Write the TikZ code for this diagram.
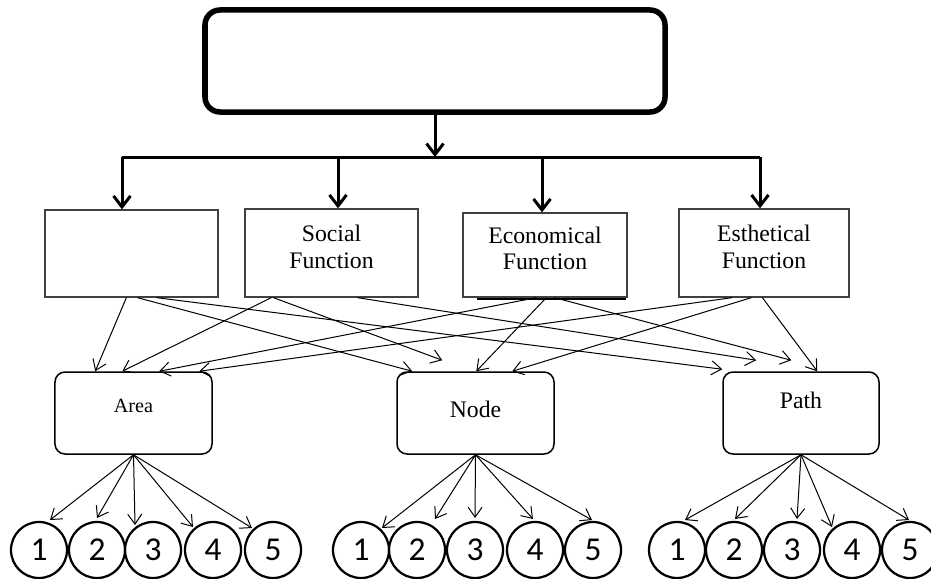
\documentclass[tikz,border=0pt]{standalone}
\usepackage{fontspec}
\setmainfont{Liberation Serif}
\newfontfamily\numfont{Carlito}
\usepackage{tikz}
\usetikzlibrary{arrows.meta}
\usetikzlibrary{calc}

\begin{document}
\begin{tikzpicture}[x=0.2mm, y=-0.2mm, >={Straight Barb[length=2mm,width=2.8mm]}]
	\tikzstyle{head}=[rectangle, rounded corners=3mm, line width=1.1mm, draw=black, minimum width=92mm, minimum height=20.4mm]
	\tikzstyle{func}=[rectangle, draw=black!75, line width=0.25mm, minimum width=34.6mm, minimum height=17.6mm]
	\tikzstyle{rbox}=[rectangle, rounded corners=2mm, draw=black, line width=0.3mm, minimum width=31.4mm, minimum height=16.4mm]
	\tikzstyle{num}=[circle, draw=black, line width=0.45mm, minimum size=11.2mm, inner sep=0pt, font=\numfont\fontsize{19}{20}\selectfont]
	\tikzstyle{connect}=[->, line width=0.2mm]
	\tikzstyle{bold}=[-{Straight Barb[length=2.2mm,width=3.4mm]}, line width=0.6mm]
	\tikzstyle{lbl}=[font=\fontsize{13.5}{15}\selectfont, align=center]
	
	\useasboundingbox (0,0) rectangle (931,578);
	
	\node[head] (top) at (435,61) {};
	
	\coordinate (bar) at (435,157);
	\coordinate (b1) at (122,157);
	\coordinate (b2) at (338,157);
	\coordinate (b3) at (542,157);
	\coordinate (b4) at (760,157);
	
	\node[func, minimum height=17.4mm] (fn1) at (131.5,253.5) {};
	\node[func, label={[lbl, yshift=1.2mm]center:Social\\Function}] (fn2) at (331.5,253) {};
	\node[func, minimum width=32.8mm, minimum height=16.8mm, label={[lbl, yshift=1.3mm]center:Economical\\Function}] (fn3) at (545,255) {};
	\node[func, minimum width=34mm, label={[lbl, yshift=1.2mm]center:Esthetical\\Function}] (fn4) at (764,253) {};
	
	\node[rbox, label={[font=\fontsize{11.5}{13}\selectfont, yshift=1.4mm]center:Area}] (area) at (133.5,413) {};
	\node[rbox, label={[lbl, yshift=0.8mm]center:Node}] (nodebox) at (475.5,413) {};
	\node[rbox, minimum width=31.2mm, label={[lbl, yshift=2.6mm]center:Path}] (pathbox) at (801,413) {};
	
	\node[num] (a1) at (39,550) {1};
	\node[num] (a2) at (97,550) {2};
	\node[num] (a3) at (153,550) {3};
	\node[num] (a4) at (213,550) {4};
	\node[num] (a5) at (273,550) {5};
	
	\node[num] (n1) at (361,550) {1};
	\node[num] (n2) at (417,550) {2};
	\node[num] (n3) at (475,550) {3};
	\node[num] (n4) at (535,550) {4};
	\node[num] (n5) at (593,550) {5};
	
	\node[num] (p1) at (677,550) {1};
	\node[num] (p2) at (734,550) {2};
	\node[num] (p3) at (792,550) {3};
	\node[num] (p4) at (852,550) {4};
	\node[num] (p5) at (910,550) {5};
	
	% bottom edge of the economical box
	\draw[line width=0.4mm] ($(fn3.south west)+(15,1)$) -- ($(fn3.south east)+(-2,1)$);
	
	\draw[line width=0.6mm] (b1) -- (b4);
	
	\path (top.south) edge [bold] (bar)
	(b1) edge [bold] (b1 |- fn1.north)
	(b2) edge [bold] (b2 |- fn2.north)
	(b3) edge [bold] (b3 |- fn3.north)
	(b4) edge [bold] (b4 |- fn4.north);
	
	\path ($(fn1.south west)+(82,0)$) edge [connect] ($(area.north west)+(41,0)$)
	($(fn1.south west)+(93,0)$) edge [connect] ($(nodebox.north west)+(16,0)$)
	($(fn1.south west)+(112,0)$) edge [connect] ($(pathbox.north west)+(0,-2)$)
	
	($(fn2.south west)+(27,0)$) edge [connect] ($(area.north west)+(68,0)$)
	($(fn2.south west)+(29,0)$) edge [connect] ($(nodebox.north west)+(46,-11)$)
	($(fn2.south west)+(113,0)$) edge [connect] ($(pathbox.north west)+(34,-11)$)
	
	($(fn3.south west)+(74,0)$) edge [connect] ($(area.north west)+(105,0)$)
	($(fn3.south west)+(84,0)$) edge [connect] ($(nodebox.north west)+(80,0)$)
	($(fn3.south west)+(92,0)$) edge [connect] ($(pathbox.north west)+(69,-11)$)
	
	($(fn4.south west)+(54,0)$) edge [connect] ($(area.north west)+(145,0)$)
	($(fn4.south west)+(73,0)$) edge [connect] ($(nodebox.north west)+(116,0)$)
	($(fn4.south west)+(84,0)$) edge [connect] ($(pathbox.north west)+(95,0)$);
	
	\path (area.south) edge [connect] ($(a1)+(11,-30)$)
	(area.south) edge [connect] ($(a2)+(0,-32)$)
	(area.south) edge [connect] ($(a3)+(-18,-25)$)
	(area.south) edge [connect] ($(a4)+(-20,-23)$)
	(area.south) edge [connect] ($(a5)+(-21,-22)$)
	
	(nodebox.south) edge [connect] ($(n1)+(21,-22)$)
	(nodebox.south) edge [connect] ($(n2)+(18,-31)$)
	(nodebox.south) edge [connect] ($(n3)+(0,-32)$)
	(nodebox.south) edge [connect] ($(n4)+(-2,-31)$)
	(nodebox.south) edge [connect] ($(n5)+(-1,-30)$)
	
	(pathbox.south) edge [connect] ($(p1)+(8,-30)$)
	(pathbox.south) edge [connect] ($(p2)+(1,-31)$)
	(pathbox.south) edge [connect] ($(p3)+(5,-31)$)
	(pathbox.south) edge [connect] ($(p4)+(-20,-23)$)
	(pathbox.south) edge [connect] ($(p5)+(-1,-30)$);
	
\end{tikzpicture}
\end{document}
